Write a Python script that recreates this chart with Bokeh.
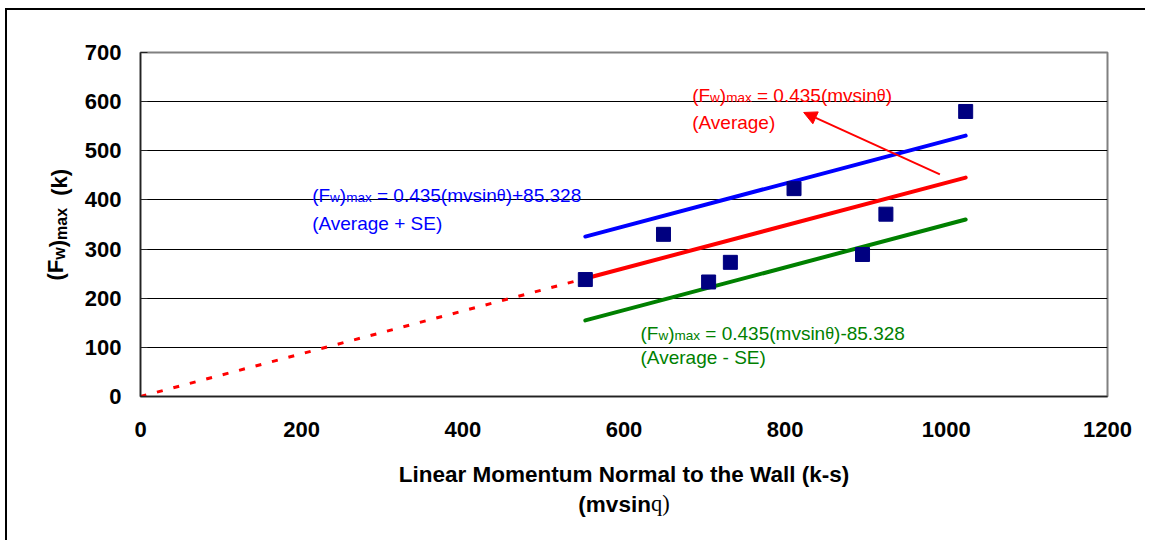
from math import pi
from bokeh.plotting import figure
from bokeh.models import Range1d, Label, Arrow, NormalHead
from bokeh.embed import file_html
from bokeh.resources import INLINE

# ---------------- data ----------------
momentum = [552, 649, 705, 732, 811, 896, 925, 1024]   # mv sin(theta), k-s
force_max = [238, 330, 233, 273, 423, 289, 371, 580]   # (Fw)max, k
slope = 0.435
se = 85.328
x_ticks = [0, 200, 400, 600, 800, 1000, 1200]
y_ticks = [0, 100, 200, 300, 400, 500, 600, 700]

# annotation arrow (data coords)
arrow_start = (992, 452)
arrow_end = (823, 578)

# ---------------- figure ----------------
W, H = 1140, 532
ML, MR, MT, MB = 133, 40, 42, 146
p = figure(width=W, height=H, output_backend="svg", toolbar_location=None,
           x_range=Range1d(0, 1200), y_range=Range1d(0, 700),
           min_border_left=ML, min_border_right=MR, min_border_top=MT, min_border_bottom=MB)
p.styles = {"margin-left": "5px", "margin-top": "8px",
            "border-left": "2px solid #000", "border-top": "2px solid #000"}
FW = W - ML - MR
FH = H - MT - MB

p.outline_line_color = "#808080"
p.outline_line_width = 2
p.xgrid.visible = False
p.ygrid.ticker = y_ticks
p.ygrid.grid_line_color = "#000000"
p.ygrid.grid_line_width = 1

p.xaxis.ticker = x_ticks
p.yaxis.ticker = y_ticks
for ax in (p.xaxis, p.yaxis):
    ax.major_label_text_font = "Liberation Sans"
    ax.major_label_text_font_style = "bold"
    ax.major_label_text_font_size = "22px"
    ax.major_label_text_color = "#000000"
    ax.axis_line_color = "#222222"
    ax.axis_line_width = 1.5
    ax.minor_tick_line_color = None
    ax.major_tick_out = 0
p.xaxis.major_tick_in = 0
p.xaxis.major_tick_line_color = None
p.yaxis.major_tick_in = 7
p.yaxis.major_tick_line_color = "#222222"
p.xaxis.major_label_standoff = 25
p.yaxis.major_label_standoff = 19

# ---------------- fitted lines ----------------
x0, x1 = min(momentum), max(momentum)
p.line([0, x0], [0, slope * x0], line_color="#FF0000", line_width=3, line_dash="6 11")
p.line([x0, x1], [slope * x0 + se, slope * x1 + se], line_color="#0000FF", line_width=4, line_cap="round")
p.line([x0, x1], [slope * x0, slope * x1], line_color="#FF0000", line_width=4, line_cap="round")
p.line([x0, x1], [slope * x0 - se, slope * x1 - se], line_color="#008000", line_width=4, line_cap="round")

p.scatter(momentum, force_max, marker="square", size=14, fill_color="#000080", line_color="#000080")

p.add_layout(Arrow(x_start=arrow_start[0], y_start=arrow_start[1], x_end=arrow_end[0], y_end=arrow_end[1],
                   line_color="#FF0000", line_width=2,
                   end=NormalHead(size=13, fill_color="#FF0000", line_color="#FF0000")))

# ---------------- text helpers ----------------
REG = {' ': 278, '(': 333, ')': 333, '+': 584, '-': 333, '.': 278, '=': 584,
       'A': 667, 'E': 667, 'F': 611, 'S': 667, 'a': 556, 'e': 556, 'g': 556, 'i': 222,
       'm': 833, 'n': 556, 'r': 333, 's': 500, 'v': 500, 'w': 722, 'x': 500, 'θ': 556}
for d in "0123456789":
    REG[d] = 556
BOLD = {' ': 278, '(': 333, ')': 333, 'F': 611, 'k': 556, 'm': 889, 'a': 556, 'x': 556,
        'w': 778, 'v': 556, 's': 556, 'i': 278, 'n': 611}
SERIF = {'q': 500, ')': 333}


def tw(text, size, table):
    return sum(table.get(c, 556) for c in text) * size / 1000.0


def eq_line(x, y, suffix, color):
    size, sub = 19, 13.5
    pieces = [("(F", size, 0), ("w", sub, 1), (")", size, 0), ("max", sub, 1),
              ("= 0.435(mvsin", size, 0, 0.278 * size), ("θ", 16, 0), (")" + suffix, size, 0)]
    off = 0.0
    for pc in pieces:
        text, s, is_sub = pc[0], pc[1], pc[2]
        if len(pc) > 3:
            off += pc[3]
        yy = y - (2.0 * 700.0 / FH if is_sub else 0)
        p.add_layout(Label(x=x, y=yy, x_offset=off, text=text, text_font="Liberation Sans",
                           text_font_size=f"{s}px", text_color=color, text_baseline="alphabetic",
                           text_align="left"))
        off += tw(text, s, REG)


def plain(x, y, text, color):
    p.add_layout(Label(x=x, y=y, text=text, text_font="Liberation Sans", text_font_size="19px",
                       text_color=color, text_baseline="alphabetic", text_align="left"))


eq_line(684.6, 612.5, "", "#FF0000")
plain(684.6, 556.6, "(Average)", "#FF0000")
eq_line(213.0, 409.0, "+85.328", "#0000FF")
plain(213.0, 352.7, "(Average + SE)", "#0000FF")
eq_line(620.5, 127.5, "-85.328", "#008000")
plain(620.5, 78.7, "(Average - SE)", "#008000")

# ---------------- axis titles: labels placed in side panels ----------------
# each side-panel label gets its own stacked panel; its screen origin is that
# panel's bottom-left corner (y up).  Page geometry of the frame:
FL, FR, FT, FB = 140.0, 1107.0, 52.0, 396.0


def thick(s):
    return 1.15 * s


def slabel(side, x, y, text, size, font="Liberation Sans", style="bold", angle=0.0, align="left"):
    p.add_layout(Label(x=x, y=y, x_units="screen", y_units="screen", text=text, angle=angle,
                       text_font=font, text_font_style=style, text_font_size=f"{size}px",
                       text_color="#000000", text_baseline="alphabetic", text_align=align), side)


# x title (below): panels stacked under the axis panel
below_bottom = FB + 25 + thick(22)
cx = FW / 2.0
below_bottom += thick(22.5)
slabel("below", cx, below_bottom - 481.7, "Linear Momentum Normal to the Wall (k-s)", 22.5, align="center")
w1 = tw("(mvsin", 22.5, BOLD)
w2 = tw("q)", 22.5, SERIF)
start = cx - (w1 + w2) / 2.0
below_bottom += thick(22.5)
slabel("below", start, below_bottom - 513.0, "(mvsin", 22.5)
below_bottom += thick(22.5)
slabel("below", start + w1, below_bottom - 513.0, "q)", 22.5, font="Liberation Serif", style="normal")

# y title, rotated: (F w ) in left panels, max in right panel, (k) in above panel
base_x = 58.5
bottom_y = 280.0
pieces = [("(F", 22, 0, 0), ("w", 16, 1, 0), (")", 22, 0, 0),
          ("max", 16, 1, 0), ("(k)", 22, 0, 2 * 0.278 * 22)]
offs = []
off = 0.0
for text, s, is_sub, pre in pieces:
    off += pre
    offs.append(off)
    off += tw(text, s, BOLD)

left_edge = FL - 55.3
for i in range(3):
    text, s, is_sub, _ = pieces[i]
    left_edge -= thick(s)
    slabel("left", base_x + (2 if is_sub else 0) - left_edge, FB - (bottom_y - offs[i]), text, s, angle=pi / 2)

text, s, is_sub, _ = pieces[3]
slabel("right", base_x + 2 - FR, FB - (bottom_y - offs[3]), text, s, angle=pi / 2)

text, s, is_sub, _ = pieces[4]
slabel("above", base_x - FL, FT - (bottom_y - offs[4]), text, s, angle=pi / 2)

open("out.html", "w").write(file_html(p, INLINE))
